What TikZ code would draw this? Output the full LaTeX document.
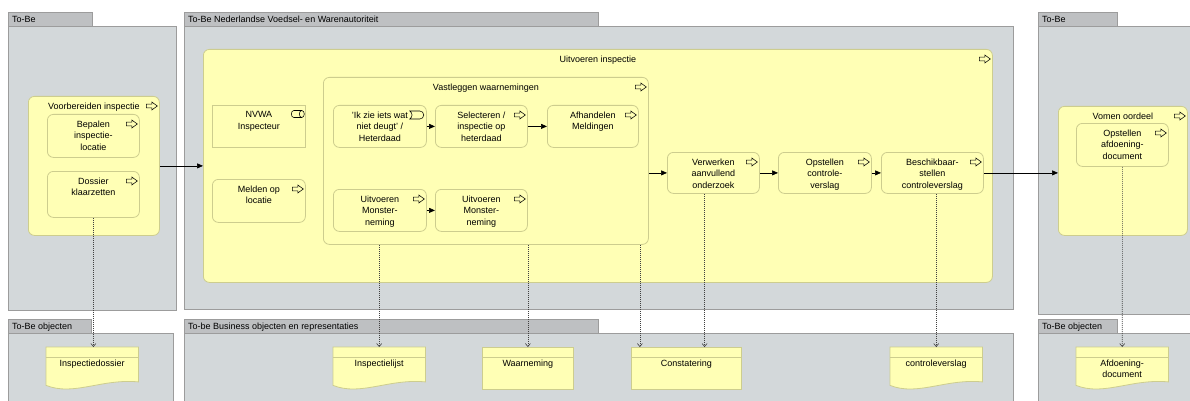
\documentclass[tikz,border=0pt]{standalone}
\usepackage{fontspec}
\setmainfont{Liberation Sans}
\usetikzlibrary{arrows.meta,calc}

\definecolor{grpfill}{HTML}{D3D8DA}
\definecolor{tabfill}{HTML}{BEC0C2}
\definecolor{grpline}{HTML}{9C9C9C}
\definecolor{yfill}{HTML}{FFFFB5}
\definecolor{yline}{HTML}{CDCD8E}
\definecolor{accline}{HTML}{404040}

\tikzset{
  grp/.style={draw=grpline, fill=grpfill, line width=0.8pt, anchor=north west, inner sep=0pt},
  grptab/.style={draw=grpline, fill=tabfill, line width=0.8pt, anchor=north west, inner sep=0pt},
  tablbl/.style={anchor=base west, inner sep=0pt, font=\fontsize{9}{11}\selectfont},
  box/.style={draw=yline, fill=yfill, rounded corners=6pt, anchor=north west, inner sep=0pt, line width=0.8pt},
  rolebox/.style={box, rounded corners=0pt},
  elem/.style={draw=yline, fill=yfill, anchor=north west, inner sep=0pt, line width=0.8pt},
  docline/.style={draw=yline, line width=0.8pt},
  ttl/.style={anchor=north, align=center, inner sep=0pt, font=\fontsize{9}{11.7}\selectfont},
  flow/.style={draw=black, line width=0.7pt, -{Triangle[length=6pt,width=5pt]}},
  acc/.style={draw=accline, line width=0.6pt, dash pattern=on 1pt off 1pt, -{Straight Barb[length=3pt,width=5pt]}},
  ico/.style={draw=black, line width=0.55pt},
  % process icon: hollow block arrow, tip at the origin
  parr/.pic={\draw[ico] (-11pt,-1.8pt) -- (-5.5pt,-1.8pt) -- (-5.5pt,-4pt) -- (0pt,0pt)
      -- (-5.5pt,4pt) -- (-5.5pt,1.8pt) -- (-11pt,1.8pt) -- cycle;},
  % event icon
  pevent/.pic={\draw[ico] (-14pt,4pt) -- (-4pt,4pt) arc[start angle=90, end angle=-90, radius=4pt]
      -- (-14pt,-4pt) .. controls (-11pt,-1.5pt) and (-11pt,1.5pt) .. cycle;},
  % role icon
  prole/.pic={\draw[ico] (-2.5pt,0pt) ellipse [x radius=2.5pt, y radius=3.5pt];
      \draw[ico] (-2.5pt,3.5pt) -- (-10.5pt,3.5pt) arc[start angle=90, end angle=270, x radius=2.5pt, y radius=3.5pt] -- (-2.5pt,-3.5pt);},
}

% process box: name, x, y, width, height, text
\newcommand\mkproc[6]{%
  \node[box, minimum width=#4pt, minimum height=#5pt] (#1) at (#2,#3) {};
  \node[ttl] (#1-t) at ([yshift=-6.5pt]#1.north) {#6};
  \pic at ([xshift=-2.5pt,yshift=-10pt]#1.north east) {parr};
}
% representation (wavy bottom): name, x, y, width, height, text
\newcommand\mkrepr[6]{%
  \node[inner sep=0pt, minimum width=#4pt, minimum height=#5pt, anchor=north west] (#1) at (#2,#3) {};
  \draw[docline, fill=yfill] (#1.north west) -- (#1.north east) -- ([yshift=7.5pt]#1.south east)
    .. controls ($(#1.south west)!0.6!(#1.south east)+(0pt,11pt)$) and ($(#1.south west)!0.3!(#1.south east)+(0pt,-7pt)$)
    .. ([yshift=4pt]#1.south west) -- cycle;
  \draw[docline] ([yshift=-10pt]#1.north west) -- ([yshift=-10pt]#1.north east);
  \node[ttl] (#1-t) at ([yshift=-12.5pt]#1.north) {#6};
}
% business object: name, x, y, width, height, text
\newcommand\mkobj[6]{%
  \node[elem, minimum width=#4pt, minimum height=#5pt] (#1) at (#2,#3) {};
  \draw[docline] ([yshift=-10pt]#1.north west) -- ([yshift=-10pt]#1.north east);
  \node[ttl] (#1-t) at ([yshift=-12.5pt]#1.north) {#6};
}
% group: name, x, y(tab top), tab width, body width, body height, label
\newcommand\mkgroup[7]{%
  \node[grp, minimum width=#5pt, minimum height=#6pt] (#1) at (#2,#3+14) {};
  \node[grptab, minimum width=#4pt, minimum height=14pt] (#1-tab) at (#2,#3) {};
  \node[tablbl] (#1-l) at ([xshift=4pt,yshift=-3.5pt]#1-tab.west) {#7};
}

\begin{document}
\begin{tikzpicture}[x=1pt,y=-1pt]
\useasboundingbox (0,0) rectangle (1190,401);
\fill[white] (0,0) rectangle (1190,401);
\clip (0,0) rectangle (1190,401);

% swimlane groups
\mkgroup{gA}{8}{12}{84}{168}{284}{To-Be}
\mkgroup{gB}{184}{12}{414}{829}{283}{To-Be Nederlandse Voedsel- en Warenautoriteit}
\mkgroup{gC}{1038}{12}{79}{160}{288}{To-Be}
\mkgroup{gD}{8}{319}{83}{165}{80}{To-Be objecten}
\mkgroup{gE}{184}{319}{414}{829}{80}{To-be Business objecten en representaties}
\mkgroup{gF}{1038}{319}{79}{160}{80}{To-Be objecten}

% processes
\mkproc{voorb}{28}{96}{131}{139}{Voorbereiden inspectie}
\mkproc{bepalen}{47}{114}{92}{43}{Bepalen\\inspectie-\\locatie}
\mkproc{dossier}{47}{171}{92}{46}{Dossier\\klaarzetten}

\mkproc{uitv}{203}{49}{789}{233}{Uitvoeren inspectie}
\node[rolebox, minimum width=93pt, minimum height=42pt] (nvwa) at (212,105) {};
\node[ttl] (nvwa-t) at ([yshift=-6.5pt]nvwa.north) {NVWA\\Inspecteur};
\pic at ([xshift=-1.5pt,yshift=-9pt]nvwa.north east) {prole};
\mkproc{melden}{212}{179}{93}{43}{Melden op\\locatie}

\mkproc{vast}{323}{77}{325}{167}{Vastleggen waarnemingen}
\node[box, minimum width=93pt, minimum height=42pt] (ikzie) at (333,105) {};
\node[ttl] (ikzie-t) at ([yshift=-6.5pt]ikzie.north) {'Ik zie iets wat\\niet deugt' /\\Heterdaad};
\pic at ([xshift=-3pt,yshift=-10pt]ikzie.north east) {pevent};
\mkproc{select}{435}{105}{92}{42}{Selecteren /\\inspectie op\\heterdaad}
\mkproc{afhand}{547}{105}{91}{42}{Afhandelen\\Meldingen}
\mkproc{monA}{333}{189}{93}{42}{Uitvoeren\\Monster-\\neming}
\mkproc{monB}{435}{189}{92}{42}{Uitvoeren\\Monster-\\neming}

\mkproc{verw}{667}{152}{92}{41}{Verwerken\\aanvullend\\onderzoek}
\mkproc{opst}{778}{152}{93}{41}{Opstellen\\controle-\\verslag}
\mkproc{besch}{881}{152}{102}{41}{Beschikbaar-\\stellen\\controleverslag}

\mkproc{vomen}{1058}{106}{129}{129}{Vomen oordeel}
\mkproc{afdoen}{1076}{123}{92}{43}{Opstellen\\afdoening-\\document}

% business objects and representations
\mkrepr{idos}{46}{347}{92}{42}{Inspectiedossier}
\mkrepr{ilijst}{333}{347}{92}{42}{Inspectielijst}
\mkobj{waarn}{482}{347}{91}{42}{Waarneming}
\mkobj{const}{631}{347}{110}{42}{Constatering}
\mkrepr{cverslag}{890}{347}{92}{42}{controleverslag}
\mkrepr{afdoc}{1076}{347}{92}{42}{Afdoening-\\document}

% triggering relations
\draw[flow] (voorb.east) -- (uitv.west);
\draw[flow] (ikzie.east) -- (select.west);
\draw[flow] (select.east) -- (afhand.west);
\draw[flow] (monA.east) -- (monB.west);
\draw[flow] (vast.east |- verw.west) -- (verw.west);
\draw[flow] (verw.east) -- (opst.west);
\draw[flow] (opst.east) -- (besch.west);
\draw[flow] (besch.east) -- (vomen.west |- besch.east);

% access relations
\coordinate (constA) at ($(const.north west)!0.08!(const.north east)$);
\coordinate (constB) at ($(const.north west)!0.664!(const.north east)$);
\draw[acc] (dossier.south) -- (dossier.south |- idos.north);
\draw[acc] (vast.south -| ilijst.north) -- (ilijst.north);
\draw[acc] (vast.south -| waarn.north) -- (waarn.north);
\draw[acc] (vast.south -| constA) -- (constA);
\draw[acc] (verw.south -| constB) -- (constB);
\draw[acc] (besch.south -| cverslag.north) -- (cverslag.north);
\draw[acc] (afdoen.south) -- (afdoc.north);
\end{tikzpicture}
\end{document}
